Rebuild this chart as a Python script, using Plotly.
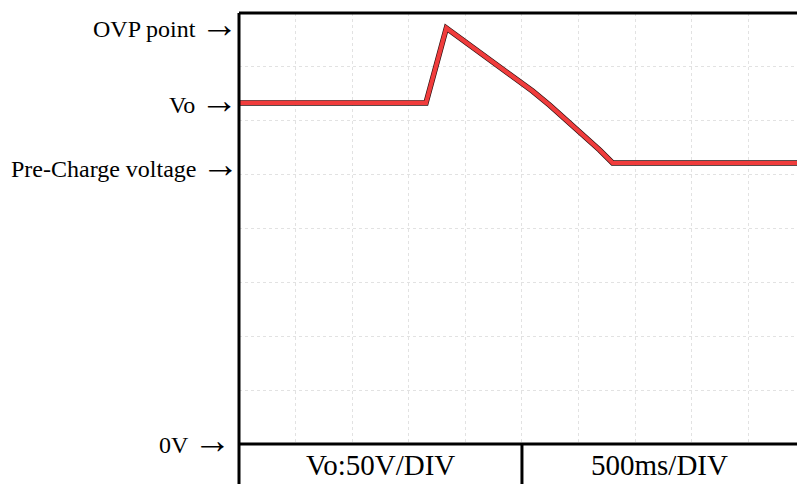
import plotly.graph_objects as go

# Waveform (time in s, voltage in V)
time_s = [0.0, 1.652, 1.832, 2.124, 2.301, 2.450, 2.593, 2.744, 2.894, 3.040, 3.186, 3.301, 4.93]
volt_v = [316.5, 316.5, 386.1, 364.0, 350.8, 339.5, 327.6, 314.5, 300.7, 287.2, 272.9, 260.8, 260.8]

# Left-side level labels
label_text = ["OVP point", "Vo", "Pre-Charge voltage", "0V"]
label_v = [386.1, 316.5, 260.8, 0.0]

# Scale captions
scale_text = ["Vo:50V/DIV", "500ms/DIV"]

V_DIV = 50
T_DIV = 0.5
N_VDIV = 8
X_MAX = 4.93

fig = go.Figure()
fig.add_trace(go.Scatter(x=time_s, y=volt_v, mode="lines",
                         line=dict(color="#2a0f0f", width=5.5), hoverinfo="skip"))
fig.add_trace(go.Scatter(x=time_s, y=volt_v, mode="lines",
                         line=dict(color="#f03c3c", width=4.2), hoverinfo="skip"))

L, T, B = 239, 13, 40
W, H = 797, 484
plot_h = H - T - B
below = -B / plot_h

fig.update_layout(
    width=W, height=H, autosize=False,
    margin=dict(l=L, r=0, t=T, b=B, pad=0),
    paper_bgcolor="white", plot_bgcolor="white",
    showlegend=False,
    xaxis=dict(range=[0, X_MAX], dtick=T_DIV, tick0=0, showgrid=True,
               gridcolor="#e2e2e2", griddash="dot", gridwidth=1,
               showticklabels=False, ticks="", zeroline=False, showline=False),
    yaxis=dict(range=[0, N_VDIV * V_DIV], dtick=V_DIV, tick0=0, showgrid=True,
               gridcolor="#e2e2e2", griddash="dot", gridwidth=1,
               showticklabels=False, ticks="", zeroline=False, showline=False),
)

blk = dict(color="black", width=3)
shapes = [
    dict(type="line", xref="paper", yref="paper", x0=0, x1=1, y0=1, y1=1, line=blk),
    dict(type="line", xref="paper", yref="paper", x0=0, x1=0, y0=below - 0.02, y1=1, line=blk),
    dict(type="line", xref="paper", yref="paper", x0=0, x1=1, y0=0, y1=0, line=blk),
    dict(type="line", xref="x", yref="paper", x0=5 * T_DIV, x1=5 * T_DIV, y0=below - 0.02, y1=0, line=blk),
]
fig.update_layout(shapes=shapes)

arrow = "<span style=\"font-family:'Liberation Serif';font-size:38px\">\u2192</span>"
yshifts = [4, 3, -1, 4]
xshifts = [1, 1, 2, -6]
for txt, v, ys, xs in zip(label_text, label_v, yshifts, xshifts):
    fig.add_annotation(x=0, xref="paper", y=v, yref="y", text=txt + "\u2009" + arrow,
                       showarrow=False, xanchor="right", yanchor="middle",
                       xshift=xs, yshift=ys,
                       font=dict(family="Liberation Serif", size=24, color="black"))

cell_mid = [(0 + 5 * T_DIV) / 2, (5 * T_DIV + X_MAX) / 2]
for txt, xm in zip(scale_text, cell_mid):
    fig.add_annotation(x=xm, xref="x", y=below / 2, yref="paper", text=txt,
                       showarrow=False, xanchor="center", yanchor="middle", yshift=-1,
                       font=dict(family="Liberation Serif", size=29, color="black"))

fig.write_html("out.html")
